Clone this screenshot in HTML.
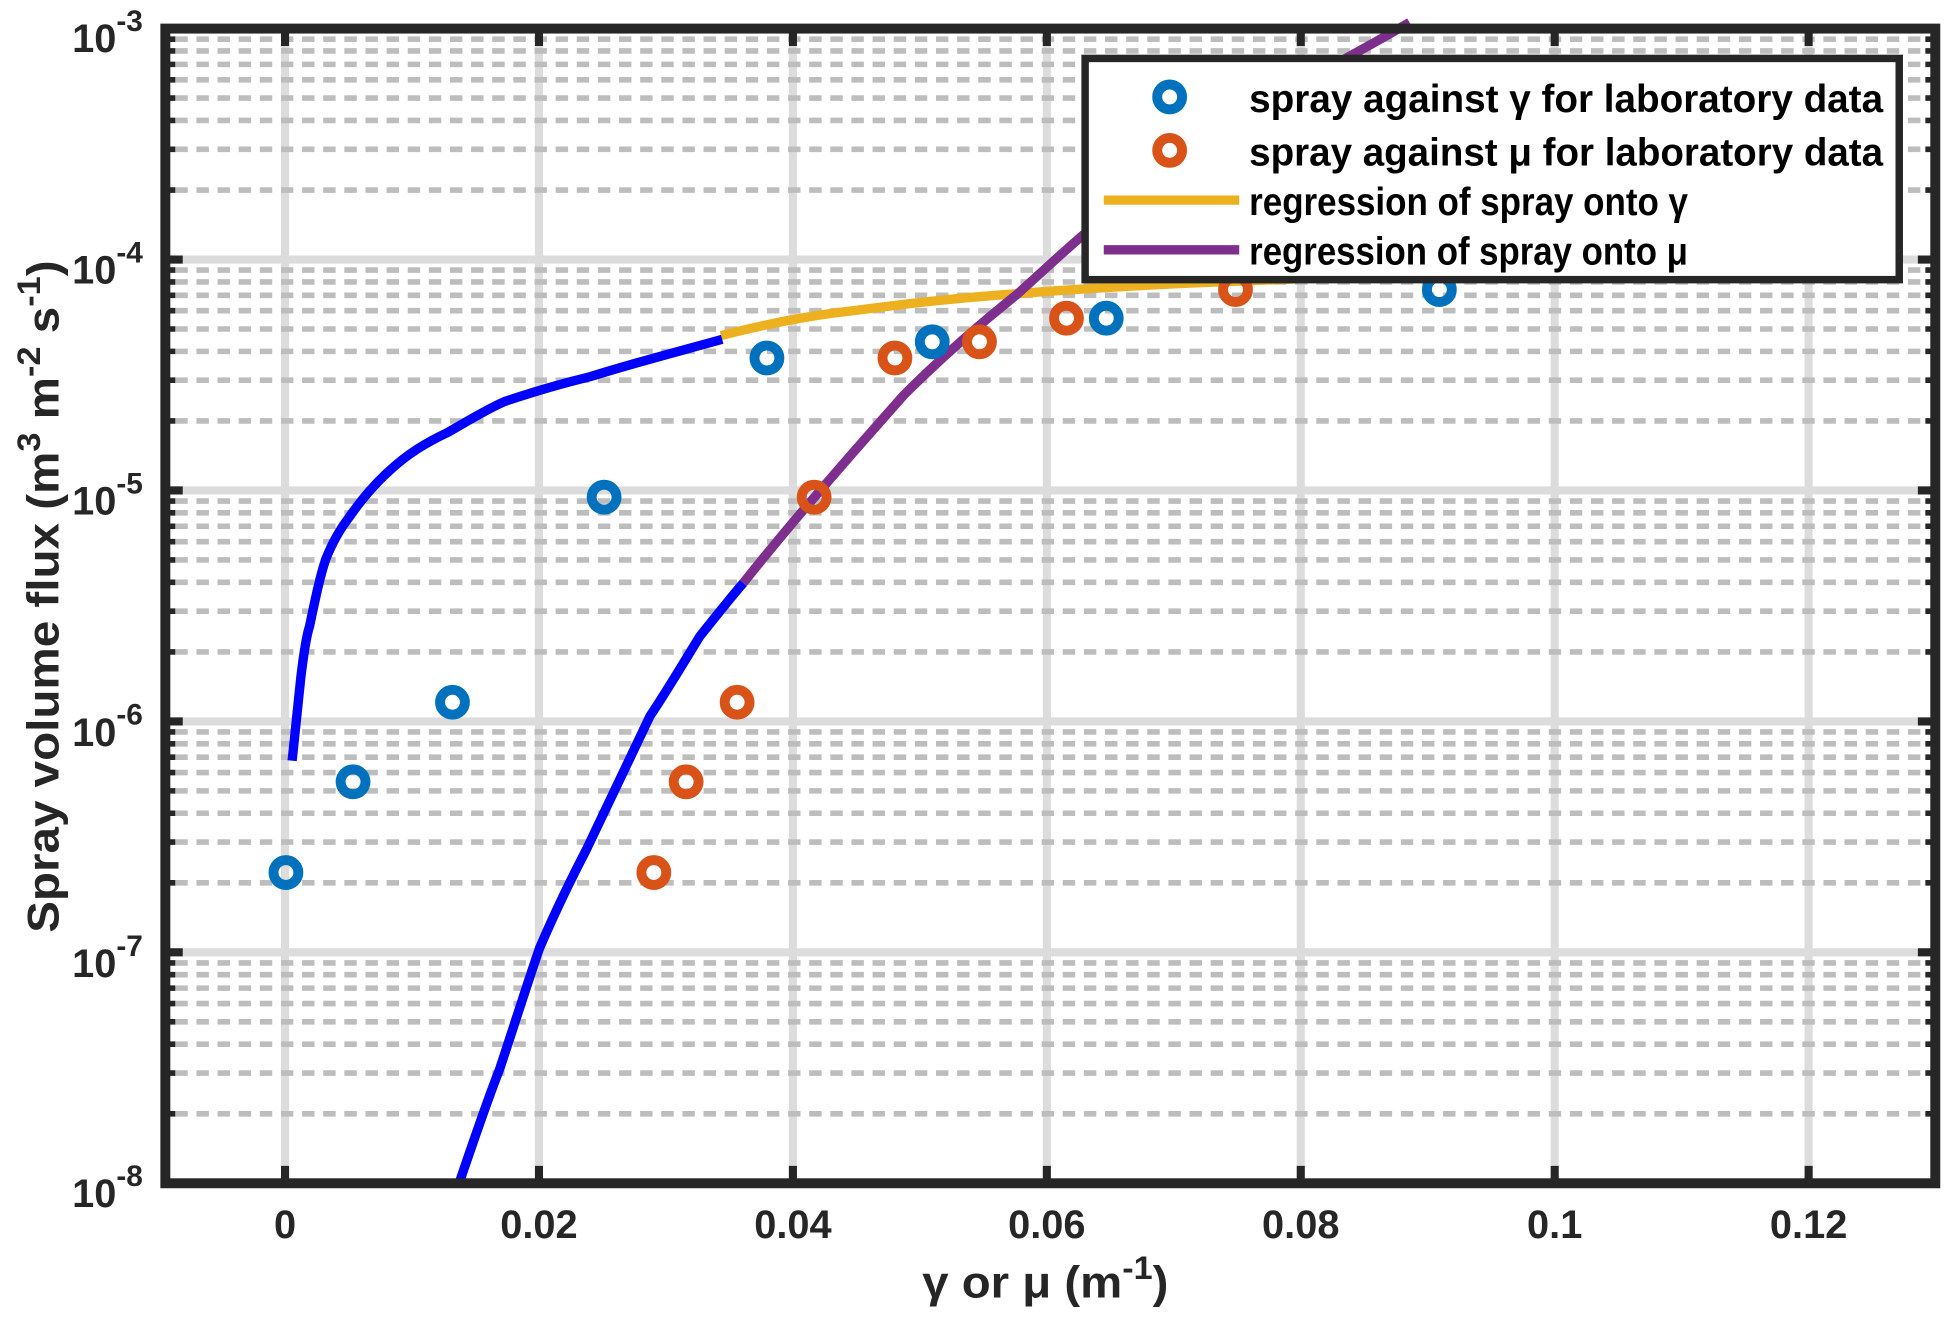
<!DOCTYPE html>
<html><head><meta charset="utf-8"><style>html,body{margin:0;padding:0;background:#fff}svg{display:block}</style></head>
<body>
<svg width="1949" height="1319" viewBox="0 0 1568 1061.2" xmlns="http://www.w3.org/2000/svg" font-family="Liberation Sans, Arial, sans-serif" font-weight="bold">
<rect x="0" y="0" width="1568" height="1062" fill="#fff"/>
<!-- major grid -->
<g stroke="#dcdcdc" stroke-width="6.5">
<path d="M133 208.8H1557M133 394.6H1557M133 580.4H1557M133 766.2H1557"/>
<path d="M229.3 23V952M433.6 23V952M637.9 23V952M842.2 23V952M1046.5 23V952M1250.8 23V952M1455.1 23V952"/>
</g>
<!-- minor grid -->
<path stroke="#bdbdbd" stroke-width="4.5" stroke-dasharray="10 7" fill="none" d="
M141 896.1H1550M141 863.3H1550M141 840.1H1550M141 822.1H1550M141 807.4H1550M141 795H1550M141 784.2H1550M141 774.7H1550
M141 710.3H1550M141 677.5H1550M141 654.3H1550M141 636.3H1550M141 621.6H1550M141 609.2H1550M141 598.4H1550M141 588.9H1550
M141 524.5H1550M141 491.7H1550M141 468.5H1550M141 450.5H1550M141 435.8H1550M141 423.4H1550M141 412.6H1550M141 403.1H1550
M141 338.7H1550M141 305.9H1550M141 282.7H1550M141 264.7H1550M141 250H1550M141 237.6H1550M141 226.8H1550M141 217.3H1550
M141 152.9H1550M141 120.1H1550M141 96.9H1550M141 78.9H1550M141 64.2H1550M141 51.8H1550M141 41H1550M141 31.5H1550"/>
<!-- curves -->
<g fill="none" stroke-width="7.5" stroke-linejoin="round" stroke-linecap="butt">
<path stroke="#EDB120" d="M580 270 C620 260 650 254 686 250 C740 243 770 240 809 237 C870 232 910 230 953 228 C1050 224 1150 220 1250 216"/>
<path stroke="#0000FF" d="M235 612 L242 545 C245 520 247 510 249 504 C253 485 257 465 262 450 C268 435 274 425 281 416 C292 400 302 389 313 379 C328 365 343 356 360 348 C376 339 390 330 406 323 C430 315 450 309 475 303 C510 292 545 283 581 273"/>
<path stroke="#0000FF" d="M370 950 C381 918 391 888 402 860 C413 827 423 795 434 763 C446 735 459 708 472 683 C489 647 506 611 523 576 C537 555 550 533 563 512 C575 497 586 483 598 469"/>
<path stroke="#7E2F8E" d="M598 469 C618 444 637 421 657 398 C680 371 704 344 727 318 C757 288 788 261 818 237 C837 220 856 202 875 186 C920 150 960 120 1000 95 C1045 66 1090 44 1134 18"/>
</g>
<!-- markers -->
<g fill="none" stroke-width="8">
<g stroke="#0072BD">
<circle cx="230" cy="702" r="10"/><circle cx="284" cy="629" r="10"/><circle cx="364" cy="565" r="10"/><circle cx="486" cy="400" r="10"/>
<circle cx="617" cy="288" r="10"/><circle cx="750" cy="275" r="10"/><circle cx="890" cy="256" r="10"/><circle cx="1158" cy="233" r="10"/>
</g>
<g stroke="#D95319">
<circle cx="526" cy="702" r="10"/><circle cx="552" cy="629" r="10"/><circle cx="593" cy="565" r="10"/><circle cx="655" cy="400" r="10"/>
<circle cx="720" cy="288" r="10"/><circle cx="788" cy="275" r="10"/><circle cx="858" cy="256" r="10"/><circle cx="994" cy="233" r="10"/>
</g>
</g>
<!-- axes -->
<g stroke="#262626" fill="none">
<path stroke-width="6.5" d="M229.3 952V938M433.6 952V938M637.9 952V938M842.2 952V938M1046.5 952V938M1250.8 952V938M1455.1 952V938
M229.3 23V37M433.6 23V37M637.9 23V37M842.2 23V37M1046.5 23V37M1250.8 23V37M1455.1 23V37
M133 208.8H147M133 394.6H147M133 580.4H147M133 766.2H147M1557 208.8H1543M1557 394.6H1543M1557 580.4H1543M1557 766.2H1543"/>
<path stroke-width="4.5" d="
M133 896.1h8M133 863.3h8M133 840.1h8M133 822.1h8M133 807.4h8M133 795h8M133 784.2h8M133 774.7h8
M133 710.3h8M133 677.5h8M133 654.3h8M133 636.3h8M133 621.6h8M133 609.2h8M133 598.4h8M133 588.9h8
M133 524.5h8M133 491.7h8M133 468.5h8M133 450.5h8M133 435.8h8M133 423.4h8M133 412.6h8M133 403.1h8
M133 338.7h8M133 305.9h8M133 282.7h8M133 264.7h8M133 250h8M133 237.6h8M133 226.8h8M133 217.3h8
M133 152.9h8M133 120.1h8M133 96.9h8M133 78.9h8M133 64.2h8M133 51.8h8M133 41h8M133 31.5h8
M1557 896.1h-8M1557 863.3h-8M1557 840.1h-8M1557 822.1h-8M1557 807.4h-8M1557 795h-8M1557 784.2h-8M1557 774.7h-8
M1557 710.3h-8M1557 677.5h-8M1557 654.3h-8M1557 636.3h-8M1557 621.6h-8M1557 609.2h-8M1557 598.4h-8M1557 588.9h-8
M1557 524.5h-8M1557 491.7h-8M1557 468.5h-8M1557 450.5h-8M1557 435.8h-8M1557 423.4h-8M1557 412.6h-8M1557 403.1h-8
M1557 338.7h-8M1557 305.9h-8M1557 282.7h-8M1557 264.7h-8M1557 250h-8M1557 237.6h-8M1557 226.8h-8M1557 217.3h-8
M1557 152.9h-8M1557 120.1h-8M1557 96.9h-8M1557 78.9h-8M1557 64.2h-8M1557 51.8h-8M1557 41h-8M1557 31.5h-8"/>
<rect x="133" y="23" width="1424" height="929" stroke-width="8"/>
</g>
<!-- tick labels -->
<g fill="#262626" font-size="32" text-anchor="middle">
<text x="229.3" y="996">0</text><text x="433.6" y="996">0.02</text><text x="637.9" y="996">0.04</text>
<text x="842.2" y="996">0.06</text><text x="1046.5" y="996">0.08</text><text x="1250.8" y="996">0.1</text><text x="1455.1" y="996">0.12</text>
</g>
<g fill="#262626" font-size="32">
<text x="58" y="42">10<tspan font-size="24" dy="-17">-3</tspan></text>
<text x="58" y="228">10<tspan font-size="24" dy="-17">-4</tspan></text>
<text x="58" y="414">10<tspan font-size="24" dy="-17">-5</tspan></text>
<text x="58" y="600">10<tspan font-size="24" dy="-17">-6</tspan></text>
<text x="58" y="786">10<tspan font-size="24" dy="-17">-7</tspan></text>
<text x="58" y="971">10<tspan font-size="24" dy="-17">-8</tspan></text>
</g>
<text x="841" y="1044" fill="#262626" font-size="36" text-anchor="middle" textLength="198" lengthAdjust="spacingAndGlyphs">γ or μ (m<tspan font-size="26" dy="-15">-1</tspan><tspan dy="15">)</tspan></text>
<text transform="translate(47 480) rotate(-90)" fill="#262626" font-size="36" text-anchor="middle" textLength="541" lengthAdjust="spacingAndGlyphs">Spray volume flux (m<tspan font-size="26" dy="-15">3</tspan><tspan dy="15"> m</tspan><tspan font-size="26" dy="-15">-2</tspan><tspan dy="15"> s</tspan><tspan font-size="26" dy="-15">-1</tspan><tspan dy="15">)</tspan></text>
<!-- legend -->
<rect x="873" y="47" width="655" height="178" fill="#fff" stroke="#262626" stroke-width="6"/>
<circle cx="941" cy="78" r="10" fill="none" stroke="#0072BD" stroke-width="8"/>
<circle cx="941" cy="121" r="10" fill="none" stroke="#D95319" stroke-width="8"/>
<path d="M888 161H997" stroke="#EDB120" stroke-width="7.5"/>
<path d="M888 201H997" stroke="#7E2F8E" stroke-width="7.5"/>
<g fill="#000" font-size="31">
<text x="1005" y="90" textLength="510" lengthAdjust="spacingAndGlyphs">spray against γ for laboratory data</text>
<text x="1005" y="133" textLength="510" lengthAdjust="spacingAndGlyphs">spray against μ for laboratory data</text>
<text x="1005" y="173" textLength="353" lengthAdjust="spacingAndGlyphs">regression of spray onto γ</text>
<text x="1005" y="213" textLength="353" lengthAdjust="spacingAndGlyphs">regression of spray onto μ</text>
</g>
</svg>
</body></html>
